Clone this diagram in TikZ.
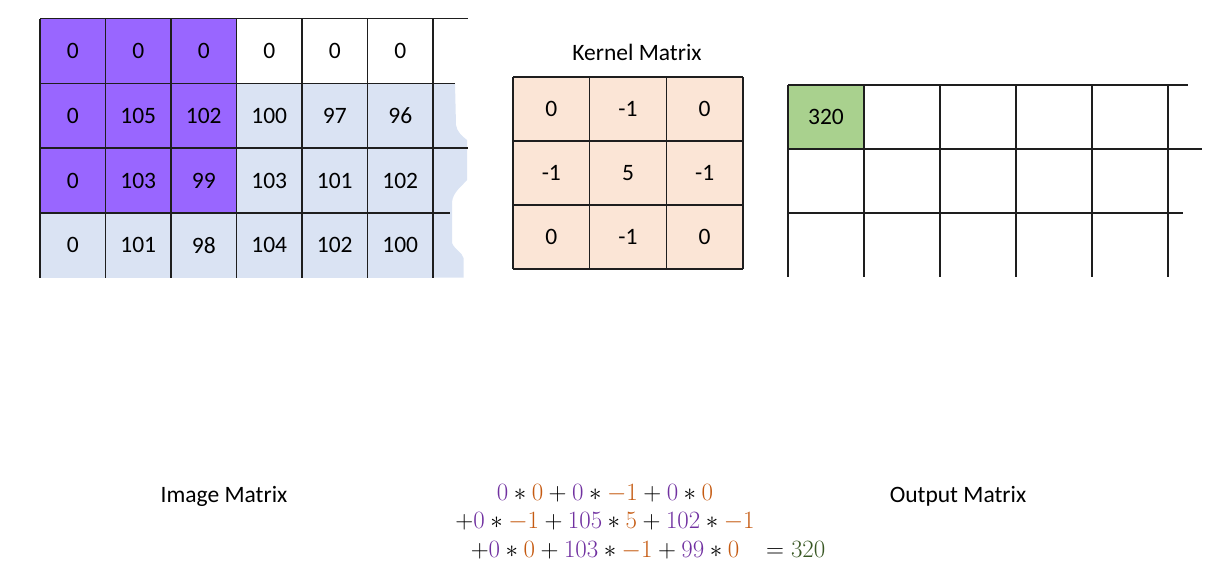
\documentclass[tikz,border=0pt]{standalone}
\usepackage[no-math]{fontspec}
\setmainfont{Carlito}
\definecolor{purpC}{HTML}{9966FF}
\definecolor{blueC}{HTML}{DAE3F3}
\definecolor{peachC}{HTML}{FBE5D6}
\definecolor{greenC}{HTML}{A9D18E}
\definecolor{fP}{HTML}{7030A0}
\definecolor{fO}{HTML}{C55A11}
\definecolor{fG}{HTML}{385723}
\definecolor{gridC}{HTML}{1E1E1E}
\tikzset{
  cellbox/.style={inner sep=0pt, outer sep=0pt, font=\fontsize{23.5}{27}\selectfont},
  gridline/.style={draw=gridC, line width=1.4pt},
  lbl/.style={inner sep=0pt, font=\fontsize{23.5}{27}\selectfont},
  frm/.style={inner sep=0pt, anchor=base, font=\fontsize{25}{29}\selectfont}
}
\newcommand{\iP}[1]{\textcolor{fP}{#1}}
\newcommand{\kO}[1]{\textcolor{fO}{#1}}
\begin{document}
\begin{tikzpicture}[x=1pt,y=-1pt]
\useasboundingbox (0,0) rectangle (1221,566);

% ---------- Image matrix ----------
\def\iw{65.5}\def\ih{64.8}
\foreach \r/\c/\v/\f in {
 0/0/0/purpC,0/1/0/purpC,0/2/0/purpC,0/3/0/white,0/4/0/white,0/5/0/white,
 1/0/0/purpC,1/1/105/purpC,1/2/102/purpC,1/3/100/blueC,1/4/97/blueC,1/5/96/blueC,
 2/0/0/purpC,2/1/103/purpC,2/2/99/purpC,2/3/103/blueC,2/4/101/blueC,2/5/102/blueC,
 3/0/0/blueC,3/1/101/blueC,3/2/98/blueC,3/3/104/blueC,3/4/102/blueC,3/5/100/blueC}{
  \node[cellbox, fill=\f, minimum width=\iw pt, minimum height=\ih pt]
    (im-\r-\c) at ({40+\iw*(\c+0.5)},{18.5+\ih*(\r+0.5)}) {\v};
}
\fill[blueC] (433.5,83.3) -- (455,83.3) -- (456,125)
  .. controls (457,132) and (462,136) .. (467,140) -- (467,180)
  .. controls (462,186) and (453,192) .. (452,202) -- (452,243)
  .. controls (455,250) and (462,252) .. (463.5,258) -- (463.5,277.7) -- (433.5,277.7) -- cycle;
\foreach \c in {0,...,6}{
  \draw[gridline] ({40+\iw*\c},18.5) -- ({40+\iw*\c},277.7);
}
\draw[gridline] (40,18.5) -- (468,18.5);
\draw[gridline] (40,83.3) -- (455,83.3);
\draw[gridline] (40,148.1) -- (468,148.1);
\draw[gridline] (40,212.9) -- (450,212.9);

% ---------- Kernel matrix ----------
\def\kw{76.67}\def\kh{64}
\foreach \r/\c/\v in {0/0/0,0/1/-1,0/2/0,1/0/-1,1/1/5,1/2/-1,2/0/0,2/1/-1,2/2/0}{
  \node[cellbox, fill=peachC, minimum width=\kw pt, minimum height=\kh pt]
    (k-\r-\c) at ({513+\kw*(\c+0.5)},{77+\kh*(\r+0.5)}) {\v};
}
\foreach \c in {0,...,3}{
  \draw[gridline] ({513+\kw*\c},77) -- ({513+\kw*\c},269);
}
\foreach \r in {0,...,3}{
  \draw[gridline] (513,{77+\kh*\r}) -- (743,{77+\kh*\r});
}
\node[lbl] (ktitle) at (637,52) {Kernel Matrix};

% ---------- Output matrix ----------
\node[cellbox, fill=greenC, minimum width=76pt, minimum height=64pt] (out-0-0) at (826,117) {320};
\foreach \c in {0,...,5}{
  \draw[gridline] ({788+76*\c},85) -- ({788+76*\c},277);
}
\draw[gridline] (788,85) -- (1188,85);
\draw[gridline] (788,149) -- (1202,149);
\draw[gridline] (788,213) -- (1183,213);

% ---------- Labels ----------
\node[lbl] (imlabel) at (224,496) {Image Matrix};
\node[lbl] (outlabel) at (958,496) {Output Matrix};

% ---------- Formula ----------
\node[frm] (f1) at (605,500) {$\iP{0}\ast\kO{0}+\iP{0}\ast\kO{-1}+\iP{0}\ast\kO{0}$};
\node[frm] (f2) at (605,528) {$+\iP{0}\ast\kO{-1}+\iP{105}\ast\kO{5}+\iP{102}\ast\kO{-1}$};
\node[frm] (f3) at (605,557) {$+\iP{0}\ast\kO{0}+\iP{103}\ast\kO{-1}+\iP{99}\ast\kO{0}$};
\node[frm, anchor=base west] (f4) at (766,557) {$=\textcolor{fG}{320}$};
\end{tikzpicture}
\end{document}
